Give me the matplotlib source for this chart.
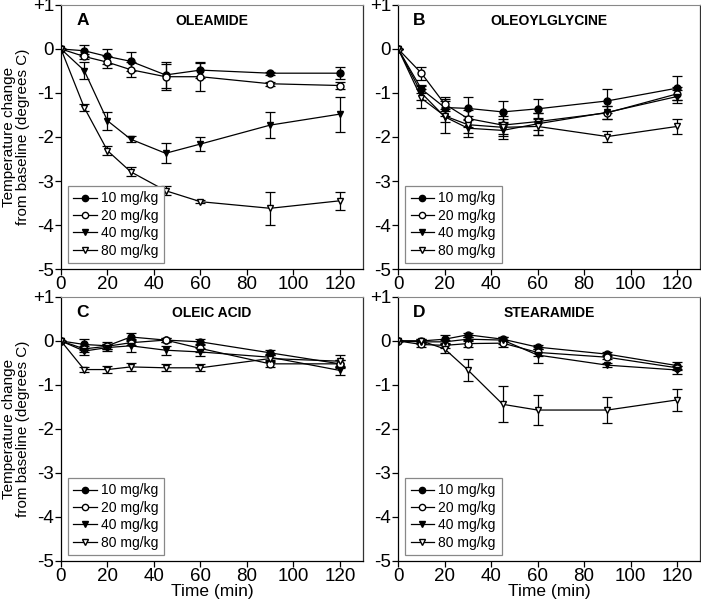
import matplotlib.pyplot as plt
from matplotlib.lines import Line2D

plt.rcParams['font.family'] = ['Liberation Sans', 'DejaVu Sans']

# time points (min)
t = [0, 10, 20, 30, 45, 60, 90, 120]
doses = ['10 mg/kg', '20 mg/kg', '40 mg/kg', '80 mg/kg']

# A: oleamide
a_10 = [0, -0.04, -0.17, -0.28, -0.59, -0.48, -0.55, -0.55]
a_10_err = [0, 0.13, 0.17, 0.22, 0.30, 0.17, 0.03, 0.13]
a_20 = [0, -0.17, -0.30, -0.47, -0.63, -0.63, -0.79, -0.83]
a_20_err = [0, 0.05, 0.13, 0.17, 0.30, 0.33, 0.04, 0.08]
a_40 = [0, -0.49, -1.63, -2.05, -2.37, -2.16, -1.73, -1.48]
a_40_err = [0, 0.20, 0.20, 0.07, 0.23, 0.15, 0.29, 0.40]
a_80 = [0, -1.33, -2.31, -2.79, -3.22, -3.47, -3.62, -3.45]
a_80_err = [0, 0.08, 0.10, 0.10, 0.10, 0.03, 0.38, 0.20]

# B: oleoylglycine
b_10 = [0, -0.91, -1.33, -1.35, -1.43, -1.36, -1.18, -0.89]
b_10_err = [0, 0.10, 0.20, 0.27, 0.25, 0.22, 0.28, 0.28]
b_20 = [0, -0.55, -1.25, -1.58, -1.73, -1.65, -1.45, -1.02]
b_20_err = [0, 0.15, 0.15, 0.20, 0.20, 0.20, 0.15, 0.15]
b_40 = [0, -1.00, -1.54, -1.80, -1.85, -1.70, -1.44, -1.08]
b_40_err = [0, 0.15, 0.36, 0.20, 0.20, 0.25, 0.15, 0.15]
b_80 = [0, -1.12, -1.52, -1.72, -1.78, -1.76, -1.99, -1.76]
b_80_err = [0, 0.22, 0.15, 0.20, 0.20, 0.20, 0.12, 0.18]

# C: oleic acid
c_10 = [0, -0.08, -0.11, 0.09, 0.02, -0.02, -0.27, -0.52]
c_10_err = [0, 0.12, 0.08, 0.08, 0.05, 0.06, 0.06, 0.08]
c_20 = [0, -0.18, -0.12, -0.04, 0.02, -0.17, -0.52, -0.52]
c_20_err = [0, 0.06, 0.06, 0.06, 0.05, 0.08, 0.08, 0.08]
c_40 = [0, -0.23, -0.15, -0.11, -0.21, -0.25, -0.37, -0.67]
c_40_err = [0, 0.08, 0.08, 0.15, 0.10, 0.10, 0.08, 0.10]
c_80 = [0, -0.65, -0.65, -0.59, -0.61, -0.61, -0.40, -0.46]
c_80_err = [0, 0.06, 0.08, 0.10, 0.08, 0.08, 0.08, 0.15]

# D: stearamide
d_10 = [0, 0.0, 0.04, 0.14, 0.04, -0.14, -0.30, -0.56]
d_10_err = [0, 0.05, 0.10, 0.05, 0.05, 0.05, 0.04, 0.08]
d_20 = [0, -0.08, -0.10, -0.06, -0.05, -0.26, -0.37, -0.61]
d_20_err = [0, 0.05, 0.05, 0.08, 0.08, 0.08, 0.05, 0.05]
d_40 = [0, -0.02, -0.02, 0.04, 0.02, -0.32, -0.55, -0.66]
d_40_err = [0, 0.05, 0.05, 0.05, 0.08, 0.18, 0.05, 0.08]
d_80 = [0, 0.0, -0.18, -0.66, -1.44, -1.57, -1.57, -1.34]
d_80_err = [0, 0.05, 0.10, 0.25, 0.41, 0.35, 0.30, 0.25]

panels = [
    ('A', 'OLEAMIDE', [a_10, a_20, a_40, a_80], [a_10_err, a_20_err, a_40_err, a_80_err]),
    ('B', 'OLEOYLGLYCINE', [b_10, b_20, b_40, b_80], [b_10_err, b_20_err, b_40_err, b_80_err]),
    ('C', 'OLEIC ACID', [c_10, c_20, c_40, c_80], [c_10_err, c_20_err, c_40_err, c_80_err]),
    ('D', 'STEARAMIDE', [d_10, d_20, d_40, d_80], [d_10_err, d_20_err, d_40_err, d_80_err]),
]

styles = [
    dict(marker='o', mfc='black'),
    dict(marker='o', mfc='white'),
    dict(marker='v', mfc='black'),
    dict(marker='v', mfc='white'),
]

fig = plt.figure(figsize=(7.01, 6.01), dpi=100)
positions = [
    [0.087, 0.5524, 0.431, 0.4393],
    [0.568, 0.5524, 0.431, 0.4393],
    [0.087, 0.0666, 0.431, 0.4393],
    [0.568, 0.0666, 0.431, 0.4393],
]

for i, (letter, title, series, errs) in enumerate(panels):
    ax = fig.add_axes(positions[i])
    handles = []
    for y, e, st, lab in zip(series, errs, styles, doses):
        ax.errorbar(t, y, yerr=e, color='black', lw=0.9, elinewidth=0.9,
                     capsize=3.5, capthick=0.9, marker=st['marker'],
                     mfc=st['mfc'], mec='black', ms=5)
        handles.append(Line2D([], [], color='black', lw=0.9, marker=st['marker'],
                              mfc=st['mfc'], mec='black', ms=4.5, label=lab))
    ax.set_xlim(0, 130)
    ax.set_ylim(-5, 1)
    ax.set_xticks([0, 20, 40, 60, 80, 100, 120])
    ax.set_yticks([1, 0, -1, -2, -3, -4, -5])
    ax.set_yticklabels(['+1', '0', '-1', '-2', '-3', '-4', '-5'])
    ax.tick_params(direction='out', length=4, width=0.9, labelsize=13.5, pad=1)
    for s in ['left', 'bottom', 'right']:
        ax.spines[s].set_linewidth(0.9)
    ax.spines['top'].set_color('#888888')
    ax.spines['right'].set_color('#333333')
    ax.text(0.05, 0.94, letter, transform=ax.transAxes, fontsize=12.5,
            fontweight='bold', va='center', ha='left')
    ax.text(0.5, 0.94, title, transform=ax.transAxes, fontsize=10,
            fontweight='bold', va='center', ha='center')
    leg = ax.legend(handles=handles, loc='lower left', bbox_to_anchor=(0.0, -0.005),
                    fontsize=10, handlelength=1.7, handletextpad=0.3,
                    labelspacing=0.25, borderpad=0.4, fancybox=False, framealpha=1)
    leg.get_frame().set_edgecolor('#888888')
    leg.get_frame().set_linewidth(0.9)
    if i in (0, 2):
        ax.set_ylabel('Temperature change\nfrom baseline (degrees C)',
                      fontsize=11, labelpad=2, linespacing=1.0)
    if i in (2, 3):
        ax.set_xlabel('Time (min)', fontsize=12.5, labelpad=-1)

fig.savefig('out.png', dpi=100, facecolor='white')
